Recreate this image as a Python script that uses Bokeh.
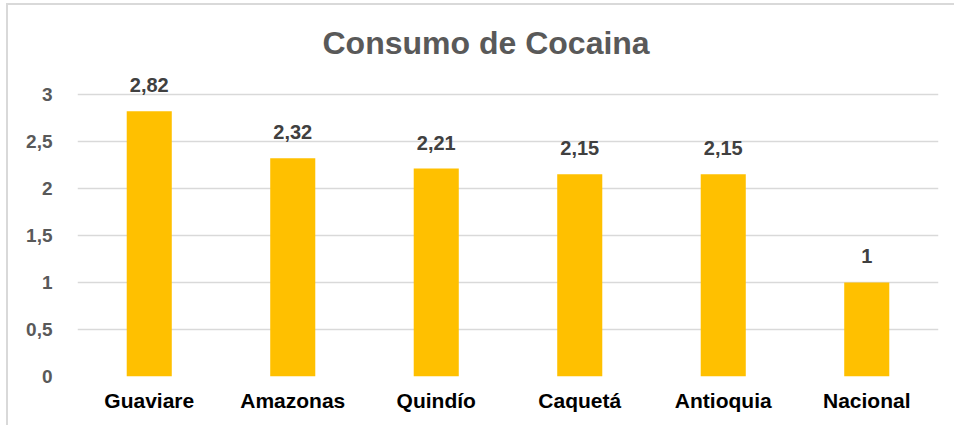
from bokeh.plotting import figure
from bokeh.models import ColumnDataSource, FactorRange, Range1d, FixedTicker
from bokeh.embed import file_html
from bokeh.resources import INLINE

categories = ["Guaviare", "Amazonas", "Quindío", "Caquetá", "Antioquia", "Nacional"]
values = [2.82, 2.32, 2.21, 2.15, 2.15, 1.0]
value_labels = ["2,82", "2,32", "2,21", "2,15", "2,15", "1"]
y_ticks = [0, 0.5, 1, 1.5, 2, 2.5, 3]
y_tick_labels = ["0", "0,5", "1", "1,5", "2", "2,5", "3"]

source = ColumnDataSource(dict(cat=categories, val=values, lab=value_labels))

p = figure(
    width=948, height=422,
    x_range=FactorRange(*categories, range_padding=0),
    y_range=Range1d(0, 3.2),
    output_backend="svg", toolbar_location=None,
    min_border_left=69, min_border_right=18, min_border_top=70, min_border_bottom=51,
    title="Consumo de Cocaina",
)
p.styles = {"margin-left": "6px", "margin-top": "3px",
            "border-left": "2px solid #d9d9d9", "border-top": "2px solid #d9d9d9"}
p.outline_line_color = None
p.background_fill_color = "white"
p.border_fill_color = "white"

p.title.align = "left"
p.title.offset = 245
p.title.text_font = "Liberation Sans"
p.title.text_font_size = "32px"
p.title.text_font_style = "bold"
p.title.text_color = "#595959"
p.title.standoff = 30

p.vbar(x="cat", top="val", width=0.314, source=source, color="#FFC000", line_color=None)
p.text(x="cat", y="val", text="lab", source=source, text_align="center",
       text_baseline="alphabetic", y_offset=-26, text_font_size="20px",
       text_font_style="bold", text_color="#404040", text_font={"value": "Liberation Sans"})

p.xgrid.grid_line_color = None
p.ygrid.grid_line_color = "#d9d9d9"
p.ygrid.grid_line_width = 1.5
p.ygrid.ticker = FixedTicker(ticks=y_ticks)

p.yaxis.ticker = FixedTicker(ticks=y_ticks)
p.yaxis.major_label_overrides = {float(t): l for t, l in zip(y_ticks, y_tick_labels)}
p.yaxis.axis_line_color = None
p.yaxis.major_tick_line_color = None
p.yaxis.minor_tick_line_color = None
p.yaxis.major_label_standoff = 19
p.yaxis.major_label_text_font = "Liberation Sans"
p.yaxis.major_label_text_font_size = "19px"
p.yaxis.major_label_text_font_style = "bold"
p.yaxis.major_label_text_color = "#595959"

p.xaxis.axis_line_color = None
p.xaxis.major_tick_line_color = None
p.xaxis.major_label_standoff = 6
p.xaxis.major_label_text_font = "Liberation Sans"
p.xaxis.major_label_text_font_size = "21px"
p.xaxis.major_label_text_font_style = "bold"
p.xaxis.major_label_text_color = "black"

open("out.html", "w").write(file_html(p, INLINE))
